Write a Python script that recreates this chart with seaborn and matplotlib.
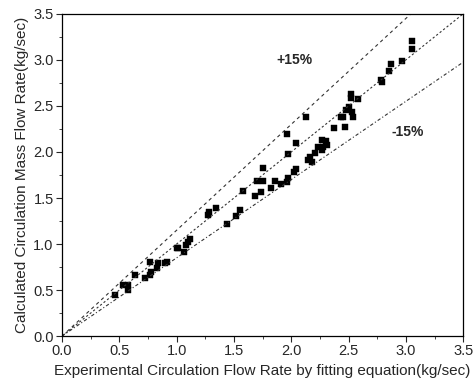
import numpy as np
import pandas as pd
import matplotlib
matplotlib.use('Agg')
import matplotlib.pyplot as plt
import seaborn as sns
from matplotlib.ticker import MultipleLocator

# Data
experimental = [3.05, 3.05, 2.97, 2.87, 2.85, 2.78, 2.79, 2.58, 2.52, 2.52,
                2.50, 2.48, 2.45, 2.43, 2.54, 2.53, 2.13, 2.37, 2.47, 2.04,
                1.97, 2.27, 2.30, 2.31, 2.28, 2.27, 2.23, 2.21, 2.16, 2.18,
                2.15, 1.96, 1.75, 1.70, 1.75, 1.58, 1.68, 1.74, 1.82, 1.86,
                1.91, 1.97, 2.02, 2.04, 1.96, 1.28, 1.34, 1.27, 1.55, 1.52,
                1.44, 1.12, 1.10, 1.01, 1.06, 1.00, 0.92, 0.90, 0.84, 0.77,
                0.83, 0.78, 0.77, 0.72, 0.64, 0.58, 0.53, 0.58, 0.46, 1.08]
calculated = [3.21, 3.12, 2.99, 2.96, 2.88, 2.78, 2.76, 2.58, 2.63, 2.59,
              2.49, 2.46, 2.38, 2.38, 2.38, 2.43, 2.38, 2.26, 2.27, 2.10,
              1.98, 2.13, 2.12, 2.08, 2.05, 2.02, 2.05, 1.99, 1.95, 1.89,
              1.91, 2.20, 1.83, 1.68, 1.69, 1.58, 1.52, 1.56, 1.61, 1.68,
              1.65, 1.72, 1.78, 1.81, 1.67, 1.35, 1.39, 1.31, 1.37, 1.30,
              1.22, 1.06, 1.02, 0.96, 0.91, 0.96, 0.80, 0.79, 0.79, 0.81,
              0.74, 0.70, 0.66, 0.63, 0.66, 0.55, 0.55, 0.50, 0.45, 0.99]
ref_x = [0.0, 3.5]

df = pd.DataFrame({'exp': experimental, 'calc': calculated})

sns.set_style('white')
plt.rcParams['font.family'] = ['Liberation Sans', 'DejaVu Sans']

fig = plt.figure(figsize=(4.77, 3.85), dpi=100)
ax = fig.add_axes([0.130, 0.127, 0.841, 0.837])

# reference lines: +15%, 0%, -15%
x = np.array(ref_x)
ax.plot(x, 1.15 * x, color='#333333', lw=0.8, ls=(0, (3, 3)))
ax.plot(x, x, color='#333333', lw=0.8, ls=(0, (2, 2)))
ax.plot(x, 0.85 * x, color='#333333', lw=0.8, ls=(0, (3, 2, 1, 2)))

sns.scatterplot(data=df, x='exp', y='calc', ax=ax, marker='s', s=14,
                color='black', edgecolor='black', linewidth=0.3)

ax.text(2.03, 3.0, '+15%', fontsize=10, fontweight='bold', ha='center', va='center')
ax.text(3.02, 2.22, '-15%', fontsize=10, fontweight='bold', ha='center', va='center')

ax.set_xlim(0, 3.5)
ax.set_ylim(0, 3.5)
ax.xaxis.set_major_locator(MultipleLocator(0.5))
ax.yaxis.set_major_locator(MultipleLocator(0.5))
ax.xaxis.set_minor_locator(MultipleLocator(0.25))
ax.yaxis.set_minor_locator(MultipleLocator(0.25))
ax.tick_params(which='major', direction='out', length=4, width=0.8,
               labelsize=10.5, bottom=True, left=True, pad=2)
ax.tick_params(which='minor', direction='out', length=2, width=0.6,
               bottom=True, left=True)
ax.set_xlabel('Experimental Circulation Flow Rate by fitting equation(kg/sec)',
              fontsize=11, labelpad=4)
ax.set_ylabel('Calculated Circulation Mass Flow Rate(kg/sec)', fontsize=11,
              labelpad=3)
for sp in ax.spines.values():
    sp.set_color('black')
    sp.set_linewidth(0.9)

fig.savefig('out.png', dpi=100)
